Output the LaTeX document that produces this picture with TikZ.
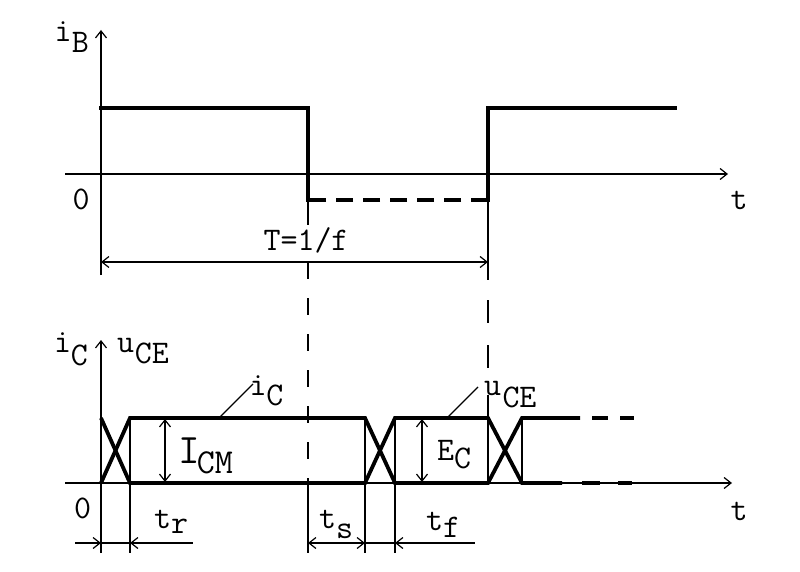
\documentclass[tikz,border=0pt]{standalone}
\usepackage{fontspec}
\usetikzlibrary{arrows.meta}
\begin{document}
\begin{tikzpicture}[x=1pt,y=-1pt,
  sig/.style={line width=3.8pt, line join=miter, line cap=rect},
  thinl/.style={line width=1.3pt},
  tip/.tip={Straight Barb[length=7pt,width=11pt,line width=1.2pt]},
  axis/.style={line width=1.3pt, -tip},
  dim/.style={line width=1.2pt, tip-tip},
  lbl/.style={inner sep=0pt, font=\ttfamily\fontsize{33}{33}\selectfont}
]
\useasboundingbox (0,0) rectangle (800,572);
\fill[white] (0,0) rectangle (800,572);

% ---------- upper diagram: i_B ----------
\coordinate (tB0) at (101,275);
\coordinate (tB1) at (101,30);
\coordinate (tH0) at (65,174);
\coordinate (tH1) at (728,174);
\draw[axis] (tB0) -- (tB1);
\draw[axis] (tH0) -- (tH1);

\draw[sig] (101,108) -- (308,108) -- (308,200);
\draw[sig] (488,200) -- (488,108) -- (675,108);
\draw[sig, line cap=butt, dash pattern=on 17pt off 10pt] (488,200) -- (308,200);

\draw[thinl] (308,200) -- (308,225);
\draw[thinl, dash pattern=on 17pt off 19pt] (308,262) -- (308,483);
\draw[thinl] (308,483) -- (308,553);
\draw[thinl] (488,200) -- (488,280);
\draw[thinl, dash pattern=on 23pt off 22pt] (488,300) -- (488,370);
\draw[thinl] (488,395) -- (488,483);

\coordinate (T0) at (101,262);
\coordinate (T1) at (488,262);
\draw[dim] (T0) -- (T1);

\node[lbl, anchor=base west] (liB) at (54.3,42) {i\kern0.5pt\raisebox{-11pt}{B}};
\node[lbl, anchor=base] (l0a) at (81,210) {0};
\node[lbl, anchor=base] (lta) at (739,210) {t};
\node[lbl, anchor=base] (lT) at (306,250) {T=1/f};

% ---------- lower diagram: i_C, u_CE ----------
\coordinate (bV0) at (101,553);
\coordinate (bV1) at (101,340);
\coordinate (bH0) at (65,483);
\coordinate (bH1) at (732,483);
\draw[axis] (bV0) -- (bV1);
\draw[axis] (bH0) -- (bH1);

\draw[sig, line cap=butt] (101,483) -- (130,418) -- (365,418) -- (395,483) -- (488,483) -- (522,418) -- (580,418);
\draw[sig, line cap=butt] (101,418) -- (130,483) -- (365,483) -- (395,418) -- (488,418) -- (522,483) -- (562,483);
\draw[sig, line cap=butt] (592,418) -- (608,418);
\draw[sig, line cap=butt] (620,418) -- (634,418);
\draw[sig, line cap=butt] (582,483) -- (600,483);
\draw[sig, line cap=butt] (618,483) -- (632,483);

\draw[thinl] (130,418) -- (130,553);
\draw[thinl] (365,418) -- (365,553);
\draw[thinl] (395,418) -- (395,553);
\draw[thinl] (522,418) -- (522,483);

% dimension lines
\draw[thinl, -tip] (75,543) -- (101,543);
\draw[thinl] (101,543) -- (130,543);
\draw[thinl, tip-] (130,543) -- (193,543);
\draw[dim] (308,543) -- (365,543);
\draw[thinl] (365,543) -- (395,543);
\draw[thinl, tip-] (395,543) -- (475,543);
\draw[dim] (165,419) -- (165,482);
\draw[dim] (422,419) -- (422,482);

% leaders
\draw[thinl] (220,417) -- (253,384);
\draw[thinl] (448,417) -- (478,387);

\node[lbl, anchor=base west] (liC) at (53.8,352) {i\raisebox{-13pt}{C}};
\node[lbl, anchor=base west] (luCE) at (116.8,352) {u\kern1pt\raisebox{-11pt}{CE}};
\node[lbl, anchor=base] (l0b) at (82.5,518) {0};
\node[lbl, anchor=base] (ltb) at (739,520) {t};
\node[lbl, anchor=base west] (ltr) at (154,528) {t\raisebox{-5pt}{r}};
\node[lbl, anchor=base west] (lts) at (319,528) {t\raisebox{-10pt}{s}};
\node[lbl, anchor=base west] (ltf) at (426,530) {t\raisebox{-7pt}{f}};
\node[lbl, anchor=base west] (lICM) at (178,463) {{\fontsize{42}{42}\selectfont I}\kern-3pt\raisebox{-10pt}{\fontsize{35}{35}\selectfont CM}};
\node[lbl, anchor=base west] (lEC) at (437,460) {E\raisebox{-8pt}{C}};
\node[lbl, anchor=base west] (liC2) at (249.3,395) {i\raisebox{-10pt}{C}};
\node[lbl, anchor=base west] (luCE2) at (483.8,395) {u\kern1.5pt\raisebox{-12pt}{CE}};
\end{tikzpicture}
\end{document}
